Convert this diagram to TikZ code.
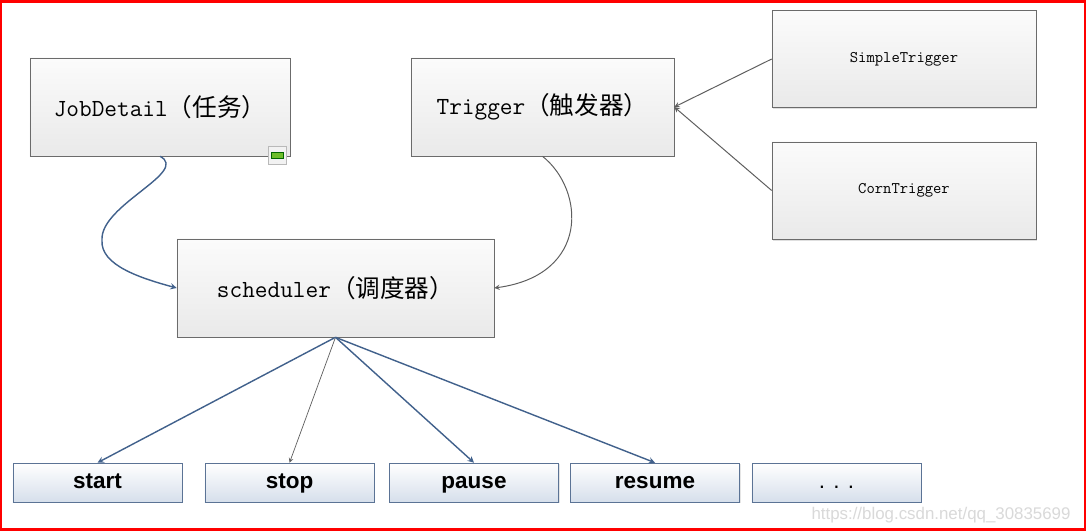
\documentclass[tikz,border=0pt]{standalone}
\usepackage{fontspec}
\setsansfont{Liberation Sans}
\newfontfamily\cjk{Noto Sans CJK SC}
\usetikzlibrary{shadows}

\definecolor{linkblue}{HTML}{41618C}
\definecolor{linkgray}{HTML}{5E5E5E}
\definecolor{boxline}{HTML}{6B6B6B}
\definecolor{opline}{HTML}{5B7395}
\definecolor{opfill}{HTML}{D6DFEB}
\definecolor{iconfill}{HTML}{6DBE2A}

\tikzset{
	topbox/.style={draw=boxline, top color=gray!3, bottom color=gray!17,
		minimum width=6.5cm, minimum height=2.45cm,
		font=\fontsize{17.5}{20}\selectfont\ttfamily,
		drop shadow={shadow xshift=1pt, shadow yshift=-1pt, opacity=0.25}},
	trigbox/.style={topbox, minimum width=6.6cm, minimum height=2.43cm,
		font=\fontsize{11.5}{13}\selectfont\ttfamily},
	opbox/.style={draw=opline, top color=white, bottom color=opfill,
		minimum width=4.225cm, minimum height=0.975cm,
		text height=11.5pt, text depth=3.5pt,
		font=\fontsize{16}{18}\selectfont\sffamily\bfseries,
		drop shadow={shadow xshift=1pt, shadow yshift=-1pt, opacity=0.2}},
	bluelink/.style={draw=linkblue, line width=1pt, -stealth},
	graylink/.style={draw=linkgray, line width=0.7pt, -stealth},
}

\begin{document}
\begin{tikzpicture}[x=0.025cm, y=-0.025cm]
		\useasboundingbox (0,0) rectangle (1086,531);
		\fill[white] (0,0) rectangle (1086,531);
		\draw[red, line width=2pt] (1,1.5) rectangle (1085,529.5);
		\draw (160,107) node[topbox] (job) {JobDetail\cjk（任务）};
		\draw (542.5,107) node[topbox, minimum width=6.575cm] (trig) {Trigger\cjk（触发器）};
		\draw (904,59) node[trigbox] (simple) {SimpleTrigger};
		\draw (904,190.5) node[trigbox] (corn) {CornTrigger};
		\draw (335.5,288) node[topbox, minimum width=7.925cm] (sched) {scheduler\cjk（调度器）};
		\draw (97.5,482.5) node[opbox] (start) {start};
		\draw (289.5,482.5) node[opbox] (stop) {stop};
		\draw (474,482.5) node[opbox] (pause) {pause};
		\draw (655,482.5) node[opbox] (resume) {resume};
		\draw (836.5,482.5) node[opbox, font=\fontsize{16}{18}\selectfont\sffamily] (more) {. . .};
		\filldraw[draw=gray!55, fill=gray!10] (268,146) rectangle (286,164);
		\filldraw[draw=green!40!black, fill=iconfill] (271,152) rectangle (283,158);
		\draw[bluelink] (job.south) .. controls (190,172) and (100,205) .. (102,240)
		.. controls (100,265) and (140,278) .. (sched.west);
		\draw[graylink] (trig.south) .. controls (585,190) and (590,275) .. (sched.east);
		\draw[graylink] (simple.west) -- (trig.east);
		\draw[graylink] (corn.west) -- (trig.east);
		\draw[bluelink] (sched.south) -- (start.north);
		\draw[graylink, line width=0.5pt] (sched.south) -- (stop.north);
		\draw[bluelink] (sched.south) -- (pause.north);
		\draw[bluelink] (sched.south) -- (resume.north);
		\node[text=gray!30, font=\fontsize{12}{14}\selectfont\sffamily] (mark) at (941,515) {https://blog.csdn.net/qq\_30835699};
	\end{tikzpicture}
\end{document}
